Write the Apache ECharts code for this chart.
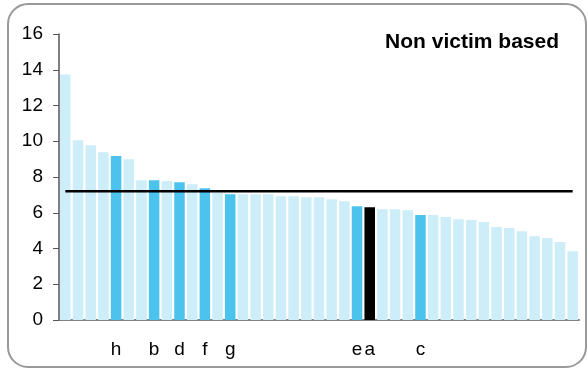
<!DOCTYPE html>
<html><head><meta charset="utf-8">
<script src="https://cdn.jsdelivr.net/npm/echarts@6/dist/echarts.min.js"></script>
<style>html,body{margin:0;padding:0;background:#fff}#c{width:588px;height:371px}</style>
</head><body><div id="c"></div>
<script>
const labels = ['', '', '', '', 'h', '', '', 'b', '', 'd', '', 'f', '', 'g', '', '', '', '', '', '', '', '', '', 'e', 'a', '', '', '', 'c', '', '', '', '', '', '', '', '', '', '', '', ''];
const values = [13.74, 10.06, 9.78, 9.39, 9.17, 9.0, 7.82, 7.82, 7.77, 7.71, 7.6, 7.37, 7.12, 7.04, 7.04, 7.04, 7.04, 6.93, 6.93, 6.87, 6.87, 6.76, 6.65, 6.37, 6.31, 6.2, 6.2, 6.14, 5.87, 5.87, 5.76, 5.64, 5.59, 5.48, 5.2, 5.14, 4.97, 4.69, 4.58, 4.36, 3.85];
const highlighted = ['h', 'b', 'd', 'f', 'g', 'e', 'c'];
const emphasisLabel = 'a';
const averageValue = 7.2;
const yTicks = [0, 2, 4, 6, 8, 10, 12, 14, 16];
const titleText = 'Non victim based';

const LIGHT = '#cdedf9', MID = '#4bc3ec', DARK = '#000000';
const barData = values.map((v, i) => ({
  value: v,
  itemStyle: { color: labels[i] === emphasisLabel ? DARK : (highlighted.includes(labels[i]) ? MID : LIGHT) }
}));
const lineData = values.map(() => averageValue);

const chart = echarts.init(document.getElementById('c'));
chart.setOption({
  animation: false,
  backgroundColor: '#fff',
  title: {
    text: titleText, right: 24, top: 27,
    textStyle: { fontFamily: 'Liberation Sans', fontWeight: 'bold', fontSize: 21, color: '#000' }
  },
  graphic: [{
    type: 'rect', shape: { x: 8, y: 4, width: 578, height: 363, r: 20 },
    style: { fill: 'none', stroke: '#999', lineWidth: 2 }, z: 100, silent: true
  }],
  grid: { left: 59, right: 9, top: 34, bottom: 51 },
  xAxis: {
    type: 'category', data: labels,
    axisLine: { lineStyle: { color: '#808080', width: 2 } },
    axisTick: { show: false },
    axisLabel: { interval: 0, margin: 20, fontFamily: 'Liberation Sans', fontSize: 19, color: '#000' }
  },
  yAxis: {
    type: 'value', min: yTicks[0], max: yTicks[yTicks.length - 1], interval: 2,
    splitLine: { show: false },
    axisLine: { show: true, lineStyle: { color: '#555', width: 1.5 } },
    axisTick: { show: true, length: 6, lineStyle: { color: '#555' } },
    axisLabel: { margin: 16, fontFamily: 'Liberation Sans', fontSize: 19, color: '#000' }
  },
  series: [{
    type: 'bar', data: barData, barCategoryGap: '17%'
  }, {
    type: 'line', data: lineData, symbol: 'none',
    lineStyle: { color: '#000', width: 2.5 }, z: 5
  }]
});
</script></body></html>
